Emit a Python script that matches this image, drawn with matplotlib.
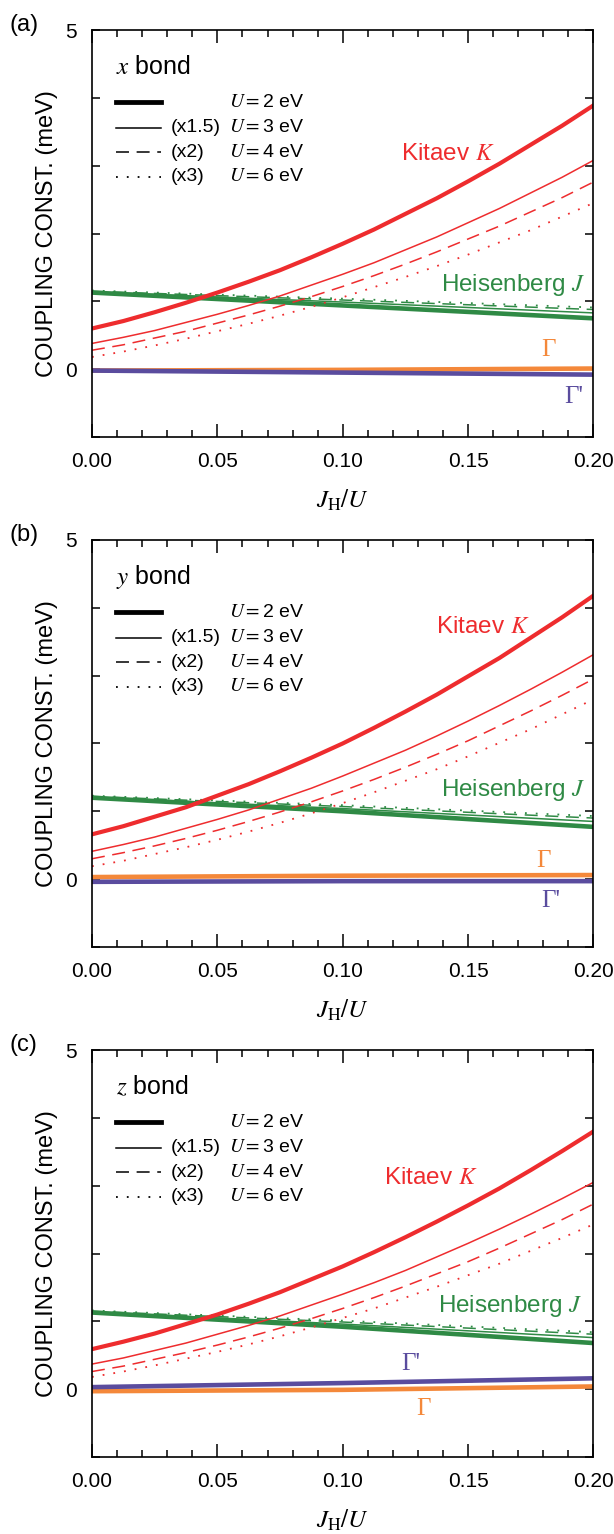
import numpy as np
import matplotlib
matplotlib.use('Agg')
import matplotlib.pyplot as plt

plt.rcParams['font.family'] = ['Liberation Sans', 'DejaVu Sans']
plt.rcParams['mathtext.fontset'] = 'stix'

# J_H/U grid for Kitaev curves and for the nearly linear couplings
jh_k = [0.0, 0.0125, 0.025, 0.0375, 0.05, 0.0625, 0.075, 0.0875, 0.10,
        0.1125, 0.125, 0.1375, 0.15, 0.1625, 0.175, 0.1875, 0.20]
jh_lin = [0.0, 0.10, 0.20]

# order inside each list: U=2, U=3 (x1.5), U=4 (x2), U=6 (x3)
kitaev_x = [
    [0.60, 0.71, 0.84, 0.98, 1.13, 1.29, 1.46, 1.65, 1.85, 2.06, 2.29, 2.52, 2.77, 3.03, 3.31, 3.59, 3.89],
    [0.38, 0.47, 0.57, 0.69, 0.81, 0.94, 1.08, 1.24, 1.40, 1.57, 1.76, 1.95, 2.16, 2.37, 2.60, 2.83, 3.08],
    [0.28, 0.36, 0.46, 0.56, 0.68, 0.80, 0.93, 1.07, 1.22, 1.38, 1.55, 1.73, 1.92, 2.11, 2.32, 2.53, 2.76],
    [0.18, 0.26, 0.35, 0.45, 0.56, 0.67, 0.79, 0.92, 1.06, 1.21, 1.36, 1.52, 1.69, 1.87, 2.05, 2.25, 2.45],
]
kitaev_y = [
    [0.66, 0.78, 0.92, 1.06, 1.23, 1.40, 1.59, 1.79, 2.00, 2.23, 2.47, 2.72, 2.99, 3.26, 3.56, 3.86, 4.18],
    [0.41, 0.51, 0.62, 0.75, 0.88, 1.02, 1.18, 1.34, 1.52, 1.71, 1.90, 2.11, 2.33, 2.56, 2.80, 3.05, 3.31],
    [0.30, 0.39, 0.49, 0.60, 0.72, 0.85, 0.99, 1.14, 1.30, 1.47, 1.65, 1.84, 2.04, 2.26, 2.48, 2.71, 2.95],
    [0.19, 0.27, 0.37, 0.47, 0.58, 0.70, 0.83, 0.97, 1.12, 1.28, 1.45, 1.62, 1.81, 2.01, 2.21, 2.43, 2.65],
]
kitaev_z = [
    [0.59, 0.70, 0.82, 0.96, 1.10, 1.26, 1.43, 1.62, 1.81, 2.02, 2.24, 2.47, 2.71, 2.96, 3.23, 3.51, 3.80],
    [0.37, 0.46, 0.57, 0.68, 0.81, 0.94, 1.08, 1.24, 1.40, 1.57, 1.75, 1.95, 2.15, 2.36, 2.58, 2.81, 3.05],
    [0.26, 0.34, 0.44, 0.54, 0.65, 0.77, 0.90, 1.04, 1.19, 1.35, 1.52, 1.70, 1.88, 2.08, 2.29, 2.50, 2.73],
    [0.18, 0.26, 0.35, 0.45, 0.55, 0.66, 0.78, 0.91, 1.05, 1.19, 1.35, 1.51, 1.68, 1.85, 2.04, 2.23, 2.43],
]

heis_x = [[1.13, 0.94, 0.75], [1.14, 0.99, 0.83], [1.15, 1.02, 0.88], [1.16, 1.04, 0.91]]
heis_y = [[1.20, 1.00, 0.77], [1.21, 1.04, 0.85], [1.22, 1.07, 0.90], [1.23, 1.09, 0.93]]
heis_z = [[1.13, 0.92, 0.68], [1.14, 0.96, 0.76], [1.15, 0.99, 0.81], [1.16, 1.01, 0.84]]

gamma_x = [[-0.02, -0.01, 0.01], [-0.02, -0.01, 0.01], [-0.02, -0.01, 0.0], [-0.02, -0.01, 0.0]]
gamma_y = [[0.03, 0.05, 0.06], [0.03, 0.05, 0.06], [0.03, 0.04, 0.06], [0.03, 0.04, 0.05]]
gamma_z = [[-0.03, -0.01, 0.04], [-0.03, -0.01, 0.04], [-0.03, -0.01, 0.03], [-0.03, -0.01, 0.03]]

gammap_x = [[-0.02, -0.05, -0.08], [-0.02, -0.05, -0.08], [-0.02, -0.04, -0.07], [-0.02, -0.04, -0.07]]
gammap_y = [[-0.04, -0.03, -0.03], [-0.04, -0.03, -0.03], [-0.04, -0.03, -0.02], [-0.04, -0.03, -0.02]]
gammap_z = [[0.03, 0.09, 0.16], [0.03, 0.09, 0.16], [0.03, 0.08, 0.15], [0.03, 0.08, 0.15]]

bonds = ['x', 'y', 'z']
panel_tags = ['(a)', '(b)', '(c)']
legend_scale = ['', '(x1.5)', '(x2)', '(x3)']
legend_u = ['2', '3', '4', '6']

# label positions (x, y) in data units: Kitaev, Heisenberg, Gamma, Gamma'
label_pos = [
    [(0.142, 3.17), (0.168, 1.24), (0.182, 0.29), (0.192, -0.41)],
    [(0.156, 3.72), (0.168, 1.32), (0.180, 0.27), (0.183, -0.32)],
    [(0.135, 3.12), (0.167, 1.22), (0.132, -0.29), (0.127, 0.37)],
]

c_k = '#ee2c2e'
c_j = '#2f8a45'
c_g = '#f4883a'
c_gp = '#5a4c9e'

styles = [
    dict(lw=3.0, ls='-'),
    dict(lw=1.1, ls='-'),
    dict(lw=1.1, ls=(0, (8.5, 5))),
    dict(lw=1.3, ls=(0, (1, 5))),
]

fig = plt.figure(figsize=(6.14, 15.34), dpi=100)
bottoms = [0.7151, 0.3827, 0.0502]

for i in range(3):
    ax = fig.add_axes([0.1498, bottoms[i], 0.8168, 0.2653])
    kit = [kitaev_x, kitaev_y, kitaev_z][i]
    hei = [heis_x, heis_y, heis_z][i]
    gam = [gamma_x, gamma_y, gamma_z][i]
    gmp = [gammap_x, gammap_y, gammap_z][i]

    # draw thinner styles first, thick on top
    for j in [3, 2, 1, 0]:
        st = styles[j]
        jw = st['lw'] * (1.0 if j else 1.1)
        ax.plot(jh_lin, hei[j], color=c_j, lw=jw, ls=st['ls'])
        ax.plot(jh_lin, gam[j], color=c_g, lw=jw, ls=st['ls'])
        ax.plot(jh_lin, gmp[j], color=c_gp, lw=jw, ls=st['ls'])
    for j in [3, 2, 1, 0]:
        st = styles[j]
        ax.plot(jh_k, kit[j], color=c_k, lw=st['lw'], ls=st['ls'])

    ax.set_xlim(0, 0.20)
    ax.set_ylim(-1, 5)
    ax.set_xticks(np.arange(0, 0.201, 0.05))
    ax.set_xticks(np.arange(0, 0.201, 0.01), minor=True)
    ax.set_xticklabels(['0.00', '0.05', '0.10', '0.15', '0.20'])
    ax.set_yticks(range(-1, 6))
    ax.set_yticklabels(['', '0', '', '', '', '', '5'])
    ax.tick_params(which='both', direction='in', top=True, right=True,
                   width=1.1, labelsize=15)
    ax.tick_params(axis='x', which='major', length=9.5, pad=11)
    ax.tick_params(axis='x', which='minor', length=5)
    ax.tick_params(axis='y', which='major', length=6, pad=11)
    for sp in ax.spines.values():
        sp.set_linewidth(1.2)

    ax.set_xlabel(r'$J_{\rm H}/U$', fontsize=18, labelpad=12)
    ax.set_ylabel('COUPLING CONST. (meV)', fontsize=17, labelpad=5)

    # legend block
    ax.text(0.048, 0.909, r'$%s$ bond' % bonds[i], transform=ax.transAxes,
            fontsize=18, va='center', ha='left')
    rows = [0.823, 0.760, 0.700, 0.639]
    for j in range(4):
        st = styles[j]
        ax.plot([0.048, 0.138], [rows[j], rows[j]], transform=ax.transAxes,
                color='black', lw=st['lw'] * (1.15 if j == 0 else 1.0), ls=st['ls'])
        ax.text(0.158, rows[j], legend_scale[j], transform=ax.transAxes,
                fontsize=14, va='center', ha='left')
        ax.text(0.273, rows[j], r'$U = $' + legend_u[j] + ' eV', transform=ax.transAxes,
                fontsize=14, va='center', ha='left')

    lp = label_pos[i]
    ax.text(lp[0][0], lp[0][1], r'Kitaev $K$', color=c_k, fontsize=17.5,
            ha='center', va='center')
    ax.text(lp[1][0], lp[1][1], r'Heisenberg $J$', color=c_j, fontsize=17.5,
            ha='center', va='center')
    ax.text(lp[2][0], lp[2][1], '\u0393', color=c_g, fontsize=18,
            family=['Liberation Serif', 'DejaVu Serif'], ha='center', va='center')
    ax.text(lp[3][0], lp[3][1], "\u0393'", color=c_gp, fontsize=18,
            family=['Liberation Serif', 'DejaVu Serif'], ha='center', va='center')

    fig.text(0.015, bottoms[i] + 0.2653 + 0.0035, panel_tags[i], fontsize=17,
             ha='left', va='center')

fig.savefig('out.png', dpi=100)
